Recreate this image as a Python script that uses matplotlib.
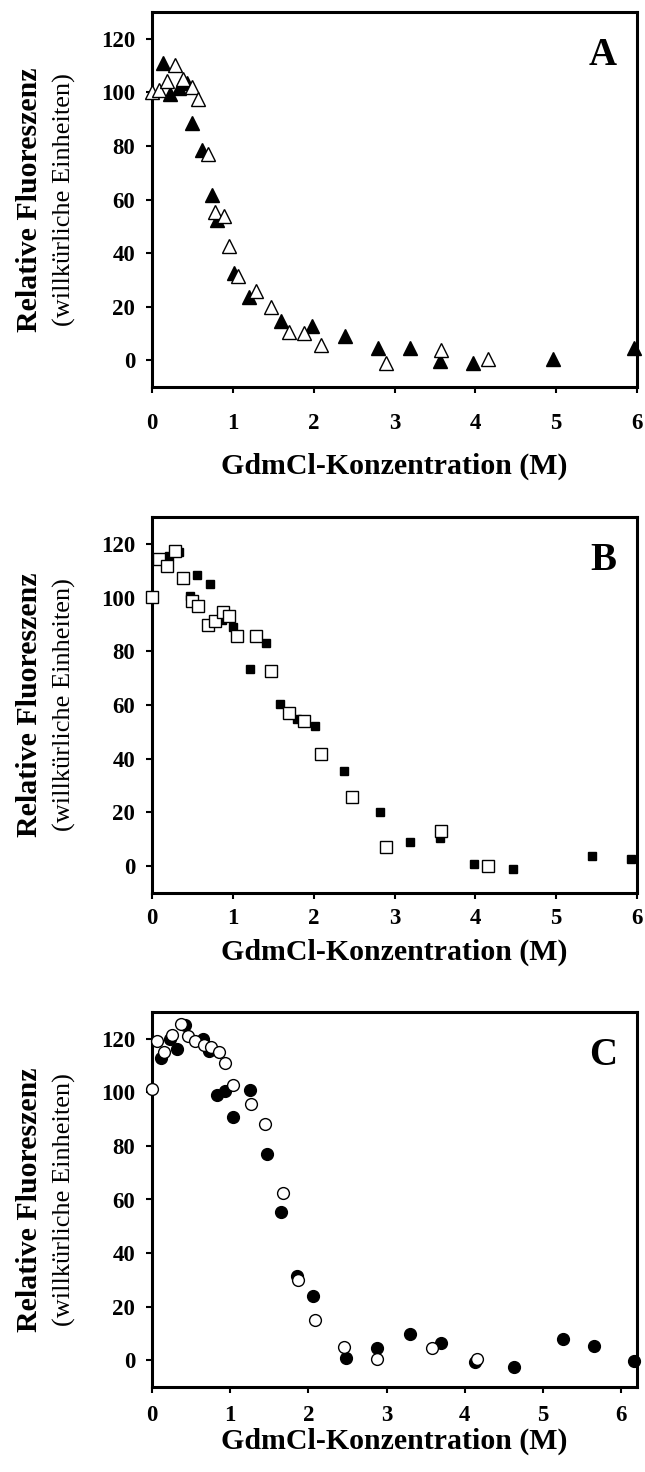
import matplotlib.pyplot as plt

plt.rcParams["font.family"] = ["Liberation Serif", "DejaVu Serif"]

# --- Panel A: triangles ---
a_fill_x = [0.14, 0.22, 0.34, 0.43, 0.50, 0.62, 0.74, 0.81, 1.01, 1.20, 1.595, 1.98,
            2.39, 2.80, 3.19, 3.56, 3.97, 4.96, 5.96]
a_fill_y = [110.9, 99.3, 101.5, 103.4, 88.5, 78.6, 61.8, 52.5, 32.7, 23.6, 14.6, 12.8,
            9.1, 4.5, 4.7, -0.3, -0.9, 0.4, 4.4]
a_open_x = [0.0, 0.09, 0.18, 0.285, 0.38, 0.49, 0.575, 0.69, 0.78, 0.89, 0.955, 1.06,
            1.285, 1.475, 1.69, 1.875, 2.09, 2.89, 3.58, 4.16]
a_open_y = [100.3, 100.7, 104.3, 110.2, 104.9, 101.9, 97.5, 77.0, 55.2, 54.0, 42.6, 31.4,
            25.8, 19.9, 10.7, 10.3, 5.6, -0.9, 3.8, 0.4]

# --- Panel B: squares ---
b_fill_x = [0.215, 0.34, 0.47, 0.56, 0.72, 0.86, 1.0, 1.21, 1.41, 1.585, 1.79, 2.02,
            2.38, 2.815, 3.19, 3.56, 3.98, 4.47, 5.44, 5.92]
b_fill_y = [115.6, 116.9, 100.7, 108.3, 105.2, 91.8, 88.9, 73.4, 83.1, 60.4, 54.8, 52.1,
            35.6, 20.0, 9.0, 10.5, 0.9, -1.0, 3.9, 2.7]
b_open_x = [0.0, 0.087, 0.18, 0.29, 0.38, 0.49, 0.575, 0.69, 0.78, 0.88, 0.95, 1.056,
            1.284, 1.47, 1.695, 1.875, 2.09, 2.47, 2.89, 3.58, 4.16]
b_open_y = [100.1, 114.4, 111.7, 117.2, 107.3, 98.6, 96.8, 89.9, 91.2, 94.5, 93.0, 85.8,
            85.8, 72.6, 57.1, 53.9, 41.9, 25.6, 7.1, 13.0, 0.0]

# --- Panel C: circles ---
c_fill_x = [0.11, 0.23, 0.32, 0.42, 0.655, 0.733, 0.826, 0.934, 1.04, 1.247, 1.47, 1.65,
            1.85, 2.06, 2.48, 2.875, 3.30, 3.69, 4.13, 4.63, 5.25, 5.65, 6.16]
c_fill_y = [113.0, 119.8, 116.3, 125.0, 120.1, 115.4, 98.9, 100.5, 90.9, 100.9, 76.9, 55.5,
            31.5, 24.0, 1.0, 4.4, 9.7, 6.6, -0.6, -2.7, 7.8, 5.3, -0.3]
c_open_x = [0.0, 0.07, 0.155, 0.26, 0.365, 0.46, 0.556, 0.66, 0.76, 0.86, 0.934, 1.04,
            1.264, 1.45, 1.67, 1.86, 2.08, 2.46, 2.875, 3.58, 4.155]
c_open_y = [101.1, 119.1, 115.0, 121.3, 125.6, 121.0, 119.1, 117.5, 117.0, 115.0, 110.8, 102.6,
            95.5, 88.1, 62.3, 29.8, 15.0, 5.1, 0.6, 4.4, 0.4]

y_ticks = [0, 20, 40, 60, 80, 100, 120]
x_ticks = [0, 1, 2, 3, 4, 5, 6]

fig = plt.figure(figsize=(6.45, 14.72), dpi=100)

W, H = 645.0, 1472.0
left, right = 152, 637
# (top, bottom) of each panel in pixels
boxes = [(12, 387), (517, 893), (1012, 1387)]


def make_axes(top, bottom):
    return fig.add_axes([left / W, 1 - bottom / H, (right - left) / W, (bottom - top) / H])


def style(ax, letter, xmax, tickpad, labelpad):
    ax.set_xlim(0, xmax)
    ax.set_ylim(-10, 130)
    ax.set_xticks(x_ticks)
    ax.set_yticks(y_ticks)
    for s in ax.spines.values():
        s.set_linewidth(2.2)
    ax.tick_params(axis="both", direction="out", length=4, width=1.5)
    ax.tick_params(axis="x", labelsize=16.5, pad=tickpad)
    ax.tick_params(axis="y", labelsize=16.5, pad=8)
    for lab in ax.get_xticklabels() + ax.get_yticklabels():
        lab.set_fontweight("bold")
    ax.set_xlabel("GdmCl-Konzentration (M)", fontsize=21.5, fontweight="bold",
                  labelpad=labelpad)
    ax.text(-0.252, 0.5, "Relative Fluoreszenz", transform=ax.transAxes, rotation=90,
            ha="center", va="center", fontsize=21.5, fontweight="bold")
    ax.text(-0.18, 0.5, "(willkürliche Einheiten)", transform=ax.transAxes, rotation=90,
            ha="center", va="center", fontsize=19)
    ax.text(0.93, 0.885, letter, transform=ax.transAxes, ha="center", va="center",
            fontsize=28, fontweight="bold")


def points(ax, x, y, marker, ms, filled, mew=1.0):
    ax.plot(x, y, linestyle="none", marker=marker, markersize=ms,
            markerfacecolor="black" if filled else "white",
            markeredgecolor="black", markeredgewidth=mew, clip_on=False, zorder=3)


# A
ax = make_axes(*boxes[0])
points(ax, a_fill_x, a_fill_y, "^", 10, True)
points(ax, a_open_x, a_open_y, "^", 10, False)
style(ax, "A", 6, 15, 13)

# B
ax = make_axes(*boxes[1])
points(ax, b_fill_x, b_fill_y, "s", 6, True)
points(ax, b_open_x, b_open_y, "s", 8.5, False)
style(ax, "B", 6, 7, 7)

# C
ax = make_axes(*boxes[2])
points(ax, c_fill_x, c_fill_y, "o", 8.5, True)
points(ax, c_open_x, c_open_y, "o", 8.5, False)
style(ax, "C", 6.2, 9, 1)

fig.savefig("out.png", dpi=100)
